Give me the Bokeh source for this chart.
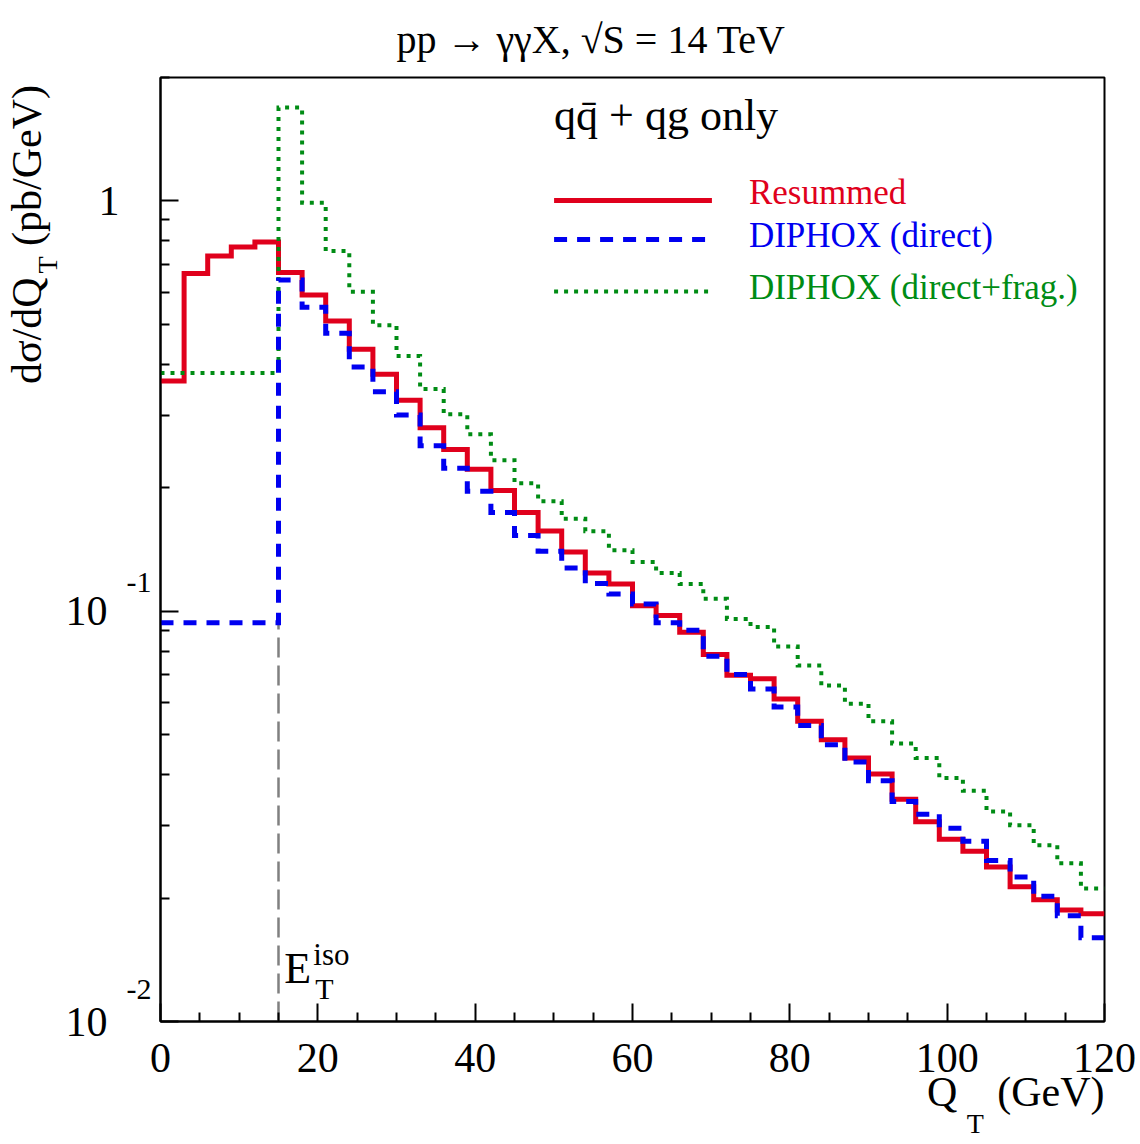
import math
from bokeh.plotting import figure
from bokeh.models import Label, FixedTicker, Range1d, LogAxis, LinearAxis
from bokeh.embed import file_html
from bokeh.resources import INLINE

# ---------------- data (bin edges every 3 GeV, 0..120) ----------------
bin_edges = [0, 3, 6, 9, 12, 15, 18, 21, 24, 27, 30, 33, 36, 39, 42, 45, 48, 51, 54, 57,
             60, 63, 66, 69, 72, 75, 78, 81, 84, 87, 90, 93, 96, 99, 102, 105, 108, 111,
             114, 117, 120]

resummed = [0.364, 0.666, 0.734, 0.772, 0.794, 0.669, 0.590, 0.510, 0.435, 0.378,
            0.327, 0.280, 0.248, 0.222, 0.197, 0.174, 0.157, 0.1395, 0.124, 0.1166,
            0.1032, 0.0976, 0.0889, 0.0784, 0.0698, 0.0685, 0.0611, 0.0539, 0.0486, 0.0439,
            0.0401, 0.0348, 0.0307, 0.0278, 0.0260, 0.0238, 0.0213, 0.0198, 0.0187, 0.0183]

diphox_direct = [0.0937, 0.0937, 0.0937, 0.0937, 0.0937, 0.642, 0.551, 0.476, 0.394, 0.343,
                 0.301, 0.253, 0.223, 0.196, 0.174, 0.153, 0.140, 0.1275, 0.1168, 0.1102,
                 0.1042, 0.0937, 0.0899, 0.0777, 0.0701, 0.0646, 0.0584, 0.0527, 0.0473, 0.0429,
                 0.0386, 0.0344, 0.0320, 0.0296, 0.0275, 0.0247, 0.0225, 0.0202, 0.0181, 0.0160]

diphox_frag = [0.381, 0.381, 0.381, 0.381, 0.381, 1.69, 0.99, 0.755, 0.601, 0.498,
               0.419, 0.348, 0.302, 0.270, 0.2335, 0.205, 0.1855, 0.168, 0.1567, 0.1409,
               0.1319, 0.124, 0.1166, 0.1072, 0.0958, 0.0916, 0.0821, 0.0738, 0.0659, 0.0595,
               0.0539, 0.0476, 0.0439, 0.0392, 0.0365, 0.0325, 0.0301, 0.0269, 0.0243, 0.0211]

series_labels = ["Resummed", "DIPHOX (direct)", "DIPHOX (direct+frag.)"]

e_iso = 15
x_major = [0, 20, 40, 60, 80, 100, 120]
x_minor = [5, 10, 15, 25, 30, 35, 45, 50, 55, 65, 70, 75, 85, 90, 95, 105, 110, 115]
y_major = [0.01, 0.1, 1]
y_minor = [0.02, 0.03, 0.04, 0.05, 0.06, 0.07, 0.08, 0.09,
           0.2, 0.3, 0.4, 0.5, 0.6, 0.7, 0.8, 0.9, 2]
y_major_base = {0.01: "10", 0.1: "10", 1: "1"}
y_major_exp = ["-1", "-2"]
y_min, y_max = 0.01, 2.0
x_min, x_max = 0, 120

RED = "#e0001c"
BLUE = "#0000f0"
GREEN = "#008c14"
FONT = "Liberation Serif"
NB = "\u00a0"

W, H = 1136, 1140
FL, FR, FT, FB = 159, 1104, 77, 1021          # frame edges in picture pixels
BL, BR, BT, BB = FL, W - FR, FT, H - FB

p = figure(width=W, height=H, output_backend="svg", toolbar_location=None,
           y_axis_type="log", x_range=Range1d(x_min, x_max), y_range=Range1d(y_min, y_max),
           min_border_left=BL, min_border_right=BR, min_border_top=BT, min_border_bottom=BB)
p.xgrid.visible = False
p.ygrid.visible = False
p.outline_line_color = "black"
p.outline_line_width = 2
p.background_fill_color = "white"
p.border_fill_color = "white"

# picture-pixel -> data helpers (for annotation placement only)
def xd(px):
    return x_min + (px - FL) * (x_max - x_min) / (FR - FL)
def yd(py):
    lmin, lmax = math.log10(y_min), math.log10(y_max)
    return 10 ** (lmin + (FB - py) * (lmax - lmin) / (FB - FT))

for ax in (p.xaxis[0], p.yaxis[0]):
    ax.axis_line_width = 2
    ax.major_tick_in = 18
    ax.major_tick_out = 0
    ax.minor_tick_in = 9
    ax.minor_tick_out = 0
    ax.major_tick_line_width = 2
    ax.minor_tick_line_width = 2
    ax.major_tick_line_color = "black"
    ax.minor_tick_line_color = "black"
    ax.axis_line_color = "black"

xax = p.xaxis[0]
xax.ticker = FixedTicker(ticks=x_major, minor_ticks=x_minor)
xax.major_label_text_font = FONT
xax.major_label_text_font_size = "42px"
xax.major_label_text_color = "black"
xax.major_label_standoff = 22

yax = p.yaxis[0]
yax.ticker = FixedTicker(ticks=y_major, minor_ticks=y_minor)
yax.major_label_overrides = {v: "" for v in y_major}
yax.major_label_standoff = 0
yax.major_label_text_color = None

def bare(ax):
    ax.axis_line_color = None
    ax.major_tick_line_color = None
    ax.minor_tick_line_color = None
    ax.major_tick_in = 0
    ax.major_tick_out = 0
    ax.minor_tick_in = 0
    ax.minor_tick_out = 0
    ax.major_label_text_font = FONT
    ax.major_label_text_color = "black"
    ax.axis_label_text_font = FONT
    ax.axis_label_text_font_style = "normal"
    ax.axis_label_text_color = "black"
    return ax

# exponent labels of the 10^n ticks (inner), then the "10"/"1" bases (outer)
exp_ticks = [round(yd(582), 5), round(yd(989), 5)]
exp_axis = bare(LogAxis(ticker=FixedTicker(ticks=exp_ticks, minor_ticks=[])))
exp_axis.major_label_overrides = dict(zip(exp_ticks, y_major_exp))
exp_axis.major_label_text_font_size = "30px"
exp_axis.major_label_standoff = 9
p.add_layout(exp_axis, "left")

base_axis = bare(LogAxis(ticker=FixedTicker(ticks=y_major, minor_ticks=[])))
base_axis.major_label_overrides = {v: (t if t == "1" else t + "\u2009\u200a")
                                   for v, t in y_major_base.items()}
base_axis.major_label_text_font_size = "42px"
base_axis.major_label_standoff = 4
p.add_layout(base_axis, "left")

# y-axis title: "dσ/dQ_T (pb/GeV)" (subscript drawn separately); the leading
# no-break spaces move the centred axis label up to the top of the axis
ytitle_axis = bare(LogAxis(ticker=FixedTicker(ticks=[], minor_ticks=[])))
ytitle_axis.axis_label = NB * 60 + "d\u03c3/dQ" + NB * 3 + "(pb/GeV)"
ytitle_axis.axis_label_text_font_size = "42px"
ytitle_axis.axis_label_standoff = 13
p.add_layout(ytitle_axis, "left")

# x-axis title: "Q_T (GeV)" (subscript drawn separately), pushed to the right end
xtitle_axis = bare(LinearAxis(ticker=FixedTicker(ticks=[], minor_ticks=[])))
xtitle_axis.axis_label = NB * 73 + "Q" + NB * 3 + "\u2009(GeV)"
xtitle_axis.axis_label_text_font_size = "42px"
xtitle_axis.axis_label_standoff = -6
p.add_layout(xtitle_axis, "below")

# iso cut marker
p.segment(x0=[e_iso], y0=[y_min], x1=[e_iso], y1=[diphox_direct[0]],
          line_color="#808080", line_width=2.5, line_dash="20 8")

def stepped(vals):
    return vals + [vals[-1]]

styles = [
    dict(line_color=RED, line_width=5),
    dict(line_color=BLUE, line_width=5, line_dash="13 10"),
    dict(line_color=GREEN, line_width=4, line_dash="4 6"),
]

p.step(x=bin_edges, y=stepped(resummed), mode="after", line_join="miter", **styles[0])
p.step(x=bin_edges, y=stepped(diphox_frag), mode="after", line_join="miter", **styles[2])
p.step(x=bin_edges, y=stepped(diphox_direct), mode="after", line_join="miter", **styles[1])

MID = 0.34  # centre of the font box above the alphabetic baseline, in em

def lab(text, px, py, size, align="left", angle=0.0, color="black", place=None):
    """px, py: start (or anchor) of the text on its alphabetic baseline, picture pixels"""
    if angle == 0.0:
        cx, cy = px, py - MID * size
    else:
        cx, cy = px - MID * size, py
    lbl = Label(x=xd(cx), y=yd(cy), x_units="data", y_units="data", text=text,
                text_font=FONT, text_font_size=f"{size}px", text_align=align,
                text_baseline="middle", angle=angle, text_color=color)
    if place is None:
        p.add_layout(lbl)
    else:
        p.add_layout(lbl, place)

# legend (manual, so each label keeps its colour)
legend_rows = [200, 239, 291]
legend_text_base = [204, 247, 299]
legend_colors = [RED, BLUE, GREEN]
for name, row, tb, col, st in zip(series_labels, legend_rows, legend_text_base,
                                   legend_colors, styles):
    p.segment(x0=[xd(553)], y0=[yd(row)], x1=[xd(711)], y1=[yd(row)], **st)
    lab(name, 748, tb, 35, color=col)

# process note
lab("qq\u0304 + qg only", 553, 130, 44)

# E_T^iso
lab("E", 283, 983, 44)
lab("iso", 312, 965, 31)
lab("T", 314, 998, 30)

# texts outside the frame live in side panels (so they are not clipped)
lab("pp \u2192 \u03b3\u03b3X, \u221aS = 14 TeV", 590, 53, 40, align="center", place="above")
lab("T", 55, 273, 28, angle=math.pi / 2, place="above")   # subscript of y title
lab("T", 966, 1133, 28, place="right")                     # subscript of x title

open("out.html", "w").write(file_html(p, INLINE))
